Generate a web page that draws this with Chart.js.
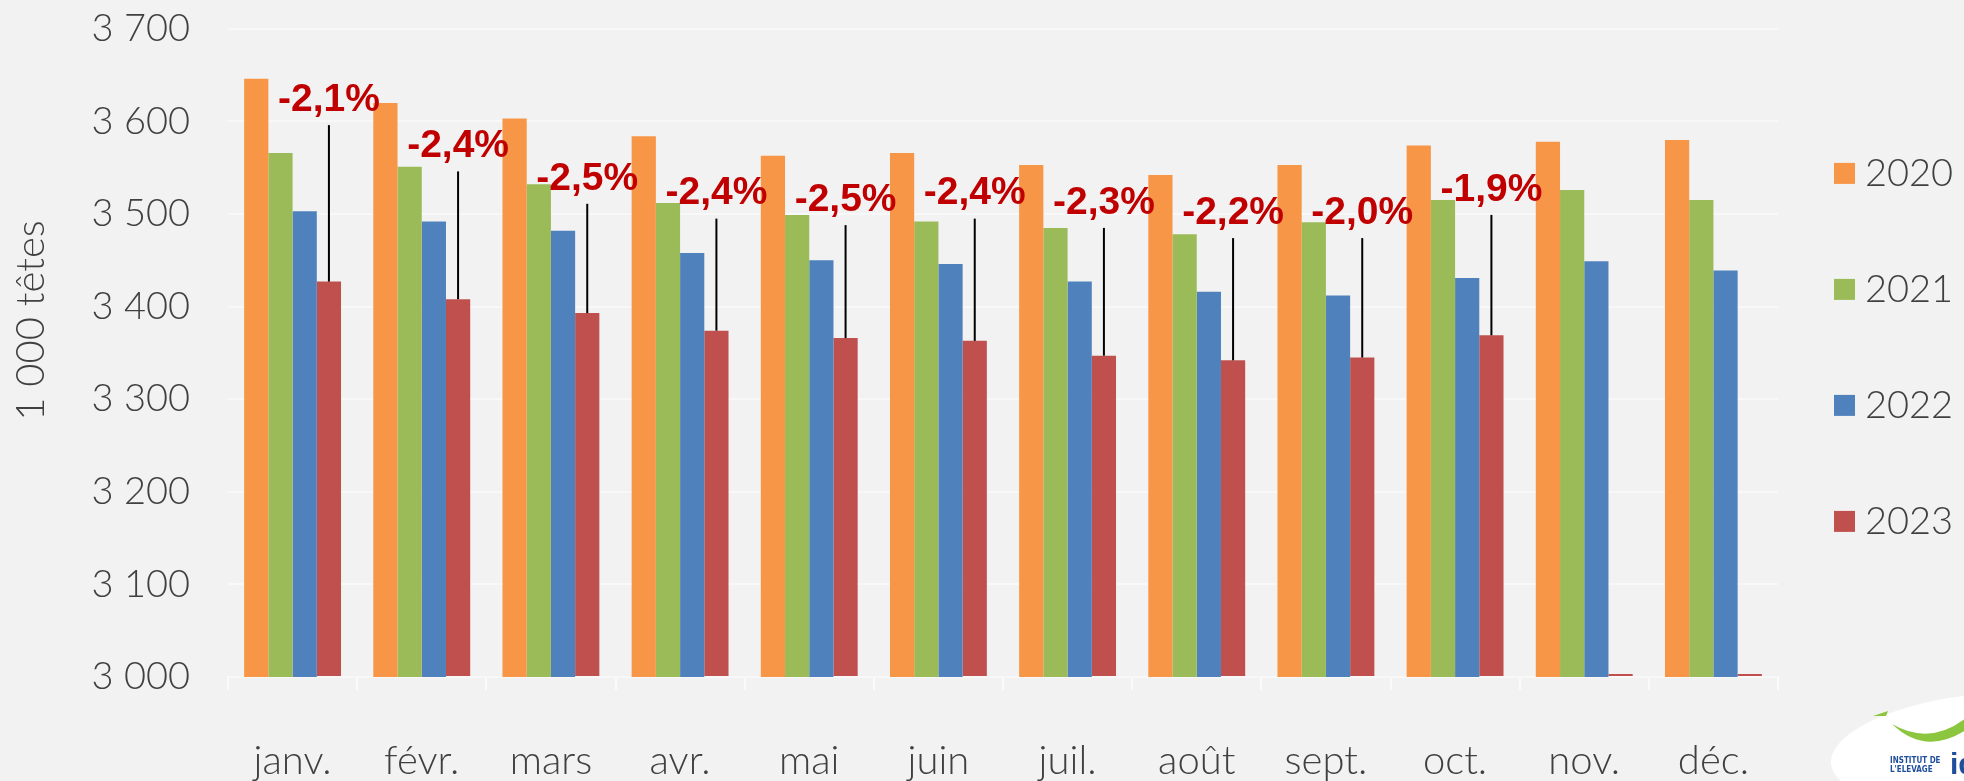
<!DOCTYPE html>
<html>
<head>
<meta charset="utf-8">
<script src="https://cdn.jsdelivr.net/npm/chart.js@4.4.0/dist/chart.umd.min.js"></script>
<style>
	html, body { margin: 0; padding: 0; background: #f2f2f2; }
	#wrap { width: 1964px; height: 781px; }
</style>
</head>
<body>
<div id="wrap"><canvas id="myChart"></canvas></div>
<script>
var months = ['janv.', 'févr.', 'mars', 'avr.', 'mai', 'juin', 'juil.', 'août', 'sept.', 'oct.', 'nov.', 'déc.'];
var years = ['2020', '2021', '2022', '2023'];
var colors = ['#f79646', '#9bbb59', '#4f81bd', '#c0504d'];

// 1 000 têtes
var v2020 = [3646, 3620, 3603, 3584, 3563, 3566, 3553, 3542, 3553, 3574, 3578, 3580];
var v2021 = [3566, 3551, 3532, 3512, 3499, 3492, 3485, 3478, 3491, 3515, 3526, 3515];
var v2022 = [3503, 3492, 3482, 3458, 3450, 3446, 3427, 3416, 3412, 3431, 3449, 3439];
var v2023 = [3427, 3408, 3393, 3374, 3366, 3363, 3347, 3342, 3345, 3369, 3000, 3000]; // nov./déc. vides : trait sur l'axe

// évolution 2023/2022 (%) et niveau où l'étiquette est posée
var evol = [-2.1, -2.4, -2.5, -2.4, -2.5, -2.4, -2.3, -2.2, -2.0, -1.9];
var evolLevel = [3623, 3573, 3538, 3522, 3515, 3522, 3512, 3501, 3501, 3526];

var yMin = 3000, yMax = 3700, yStep = 100;
var yTitle = '1 000 têtes';

var txtFont = 'Lato, "Open Sans", sans-serif';
var txtColor = '#404040';

function fmtThousands(v) {
	return String(v).replace(/\B(?=(\d{3})+(?!\d))/g, ' ');
}

var evolPlugin = {
	id: 'evol',
	afterDatasetsDraw: function (chart) {
		var ctx = chart.ctx;
		var meta = chart.getDatasetMeta(3);
		var y = chart.scales.y;
		ctx.save();
		for (var i = 0; i < evol.length; i++) {
			var bar = meta.data[i];
			var ly = y.getPixelForValue(evolLevel[i]);
			ctx.strokeStyle = '#000';
			ctx.lineWidth = 2;
			ctx.beginPath();
			ctx.moveTo(bar.x, ly + 25);
			ctx.lineTo(bar.x, bar.y);
			ctx.stroke();
			ctx.fillStyle = '#c00000';
			ctx.font = 'bold 39px "Liberation Sans", Arial, sans-serif';
			ctx.textAlign = 'center';
			ctx.textBaseline = 'middle';
			ctx.fillText(evol[i].toFixed(1).replace('.', ',') + '%', bar.x, ly);
		}
		ctx.restore();
	}
};

var extrasPlugin = {
	id: 'extras',
	afterDraw: function (chart) {
		var ctx = chart.ctx;
		var ca = chart.chartArea;
		ctx.save();
		// titre de l'axe
		ctx.translate(31, ca.top + (ca.bottom - ca.top) * 0.45);
		ctx.rotate(-Math.PI / 2);
		ctx.fillStyle = txtColor;
		ctx.font = '300 40px ' + txtFont;
		ctx.textAlign = 'center';
		ctx.textBaseline = 'middle';
		ctx.fillText(yTitle, 0, 0);
		ctx.restore();

		// légende
		ctx.save();
		var midY = (ca.top + ca.bottom) / 2 - 6;
		chart.data.datasets.forEach(function (ds, i) {
			var cy = midY + (i - 1.5) * 116;
			ctx.fillStyle = ds.backgroundColor;
			ctx.fillRect(ca.right + 56, cy - 10, 21, 21);
			ctx.fillStyle = txtColor;
			ctx.font = '300 38px ' + txtFont;
			ctx.textAlign = 'left';
			ctx.textBaseline = 'middle';
			ctx.fillText(ds.label, ca.right + 87, cy + 1);
		});
		ctx.restore();

		// logo
		ctx.save();
		ctx.fillStyle = '#ffffff';
		ctx.beginPath();
		ctx.ellipse(1968, 748, 138, 52, -0.12, 0, Math.PI * 2);
		ctx.fill();
		ctx.fillStyle = '#8cc63f';
		ctx.beginPath();
		ctx.moveTo(1892, 724);
		ctx.quadraticCurveTo(1930, 746, 1966, 718);
		ctx.lineTo(1966, 730);
		ctx.quadraticCurveTo(1925, 756, 1892, 724);
		ctx.fill();
		ctx.beginPath();
		ctx.moveTo(1873, 716);
		ctx.lineTo(1888, 711);
		ctx.lineTo(1886, 716);
		ctx.fill();
		ctx.fillStyle = '#1f4e9c';
		ctx.font = 'bold 8px "DejaVu Sans Condensed", sans-serif';
		ctx.textAlign = 'left';
		ctx.textBaseline = 'alphabetic';
		ctx.fillText('INSTITUT DE', 1890, 763);
		ctx.fillText("L'ELEVAGE", 1890, 772);
		ctx.font = 'bold 30px "Liberation Sans", sans-serif';
		ctx.fillText('id', 1950, 774);
		ctx.restore();
	}
};

var flightChart = new Chart(document.getElementById('myChart'), {
	type: 'bar',
	data: {
		labels: months,
		datasets: [
			{ label: years[0], data: v2020, backgroundColor: colors[0] },
			{ label: years[1], data: v2021, backgroundColor: colors[1] },
			{ label: years[2], data: v2022, backgroundColor: colors[2] },
			{ label: years[3], data: v2023, backgroundColor: colors[3], base: yMin, minBarLength: 3 }
		]
	},
	options: {
		responsive: true,
		maintainAspectRatio: false,
		animation: false,
		categoryPercentage: 0.75,
		barPercentage: 1.0,
		layout: { padding: { top: 0, right: 186, bottom: 0, left: 0 } },
		plugins: {
			legend: { display: false },
			tooltip: { enabled: false }
		},
		scales: {
			x: {
				afterFit: function (scale) { scale.height = 104; },
				grid: {
					offset: true,
					drawOnChartArea: false,
					tickLength: 13,
					color: '#fafafa',
					lineWidth: 2
				},
				border: { color: '#fafafa', width: 2, z: -1 },
				ticks: {
					color: txtColor,
					font: { family: txtFont, size: 40, weight: 300 },
					padding: 47,
					maxRotation: 0
				}
			},
			y: {
				min: yMin,
				max: yMax,
				afterFit: function (scale) { scale.width = 228; },
				grid: {
					color: '#f8f8f8',
					lineWidth: 2,
					drawTicks: true,
					tickLength: 32,
					tickColor: 'rgba(0,0,0,0)'
				},
				border: { display: false },
				ticks: {
					stepSize: yStep,
					color: txtColor,
					font: { family: txtFont, size: 38, weight: 300 },
					padding: 6,
					callback: function (v) { return fmtThousands(v); }
				}
			}
		}
	},
	plugins: [evolPlugin, extrasPlugin]
});
</script>
</body>
</html>
